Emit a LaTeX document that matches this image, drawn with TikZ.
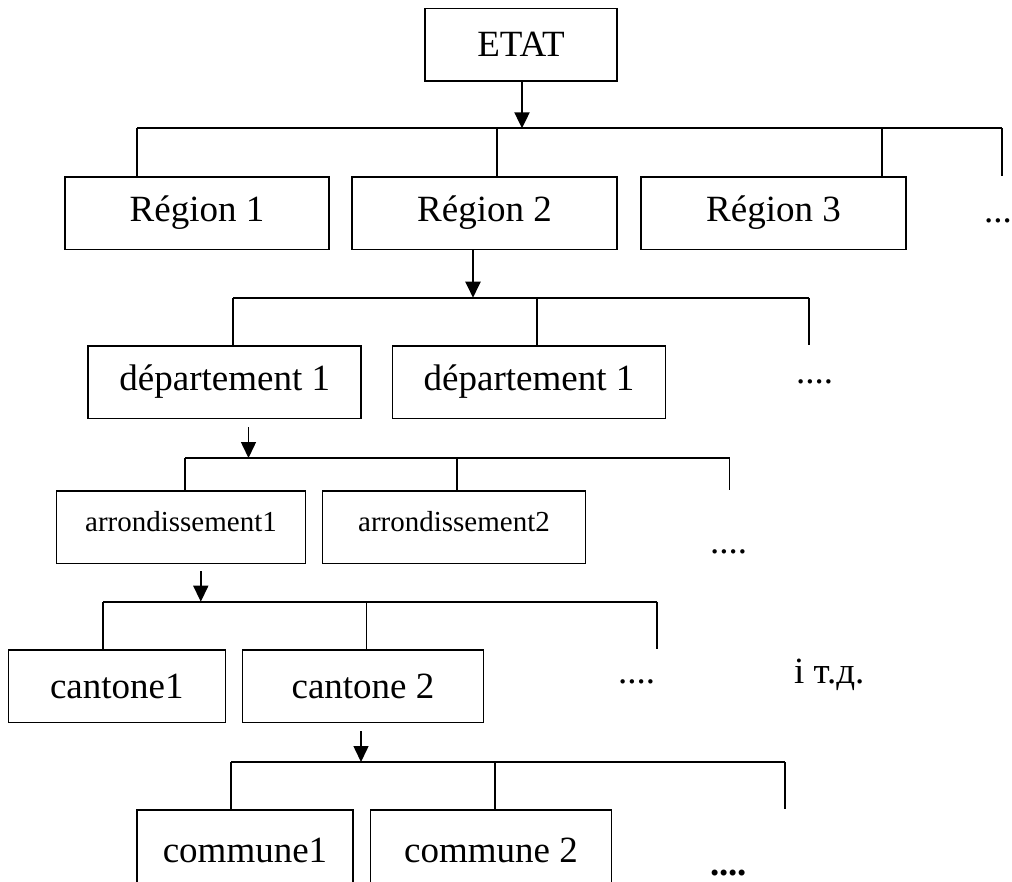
\documentclass[tikz,border=0pt]{standalone}
\usepackage{fontspec}
\setmainfont{Liberation Serif}
\usetikzlibrary{arrows.meta}
\tikzset{
  box/.style={draw, line width=1.5pt, minimum width=#1, minimum height=72.5pt, inner sep=0pt, font=\fontsize{37}{40}\selectfont},
  sbox/.style={box=#1, text depth=11pt, font=\fontsize{29}{32}\selectfont},
  arr/.style={-{Triangle[length=16pt, width=15pt]}, line width=1.5pt},
  bus/.style={line width=2pt},
  drop/.style={line width=1.4pt},
  dots/.style={anchor=base west, inner sep=0pt, font=\fontsize{37}{40}\selectfont},
}

\begin{document}
\begin{tikzpicture}[x=1pt, y=-1pt]
  \useasboundingbox (0,0) rectangle (1012,881);
  \node[box=192pt] (etat) at (521,44.7) {ETAT};
  \node[box=264pt] (r1) at (197,213) {Région 1};
  \node[box=265pt] (r2) at (484.5,213) {Région 2};
  \node[box=265pt] (r3) at (773.5,213) {Région 3};
  \node[dots] (r4) at (984,222) {...};
  \node[box=273pt] (d1) at (224.7,382) {département 1};
  \node[box=273pt] (d2) at (529,382) {département 1};
  \node[dots] (d3) at (796,383) {....};
  \node[sbox=249pt] (a1) at (181,527.3) {arrondissement1};
  \node[sbox=263pt] (a2) at (454,527.3) {arrondissement2};
  \node[dots] (a3) at (710,553) {....};
  \node[box=217pt] (c1) at (116.8,686.3) {cantone1};
  \node[box=241pt] (c2) at (363,686.3) {cantone 2};
  \node[dots] (c3) at (618,683) {....};
  \node[dots] (etc) at (794,683) {і т.д.};
  \node[box=216pt, minimum height=80pt] (m1) at (245,850) {commune1};
  \node[box=241pt, minimum height=80pt] (m2) at (491,850) {commune 2};
  \node[dots, font=\fontsize{37}{40}\selectfont\bfseries] (m3) at (710,875) {....};

  \coordinate (j1) at (522,128.3);
  \coordinate (j2) at (473,297.7);
  \coordinate (j3) at (248.5,458);
  \coordinate (j4) at (200.8,601.7);
  \coordinate (j5) at (361,762);

  \draw[bus] (137,128.3) -- (1002,128.3);
  \draw[bus] (233,297.7) -- (809,297.7);
  \draw[bus] (185,458) -- (729.5,458);
  \draw[bus] (103,601.7) -- (657,601.7);
  \draw[bus] (231,762) -- (785,762);

  \foreach \x/\n in {137/r1, 497/r2, 882/r3, 1002/r3}
    \draw[drop] (\x,128.3) -- (\x,0 |- \n.north);
  \foreach \x/\n in {233/d1, 537/d2, 809/d2}
    \draw[drop] (\x,297.7) -- (\x,0 |- \n.north);
  \foreach \x/\n in {185/a1, 457/a2, 729.5/a2}
    \draw[drop] (\x,458) -- (\x,0 |- \n.north);
  \foreach \x/\n in {103/c1, 366.7/c2, 657/c2}
    \draw[drop] (\x,601.7) -- (\x,0 |- \n.north);
  \foreach \x/\n in {231/m1, 495/m2, 785/m2}
    \draw[drop] (\x,762) -- (\x,0 |- \n.north);

  \draw[arr, line width=2.2pt] (j1 |- etat.south) -- (j1);
  \draw[arr, line width=2.2pt] (j2 |- r2.south) -- (j2);
  \draw[arr] (j3 |- d1.south) ++(0,8) -- (j3);
  \draw[arr] (j4 |- a1.south) ++(0,6.7) -- (j4);
  \draw[arr] (j5 |- c2.south) ++(0,8) -- (j5);
\end{tikzpicture}
\end{document}
